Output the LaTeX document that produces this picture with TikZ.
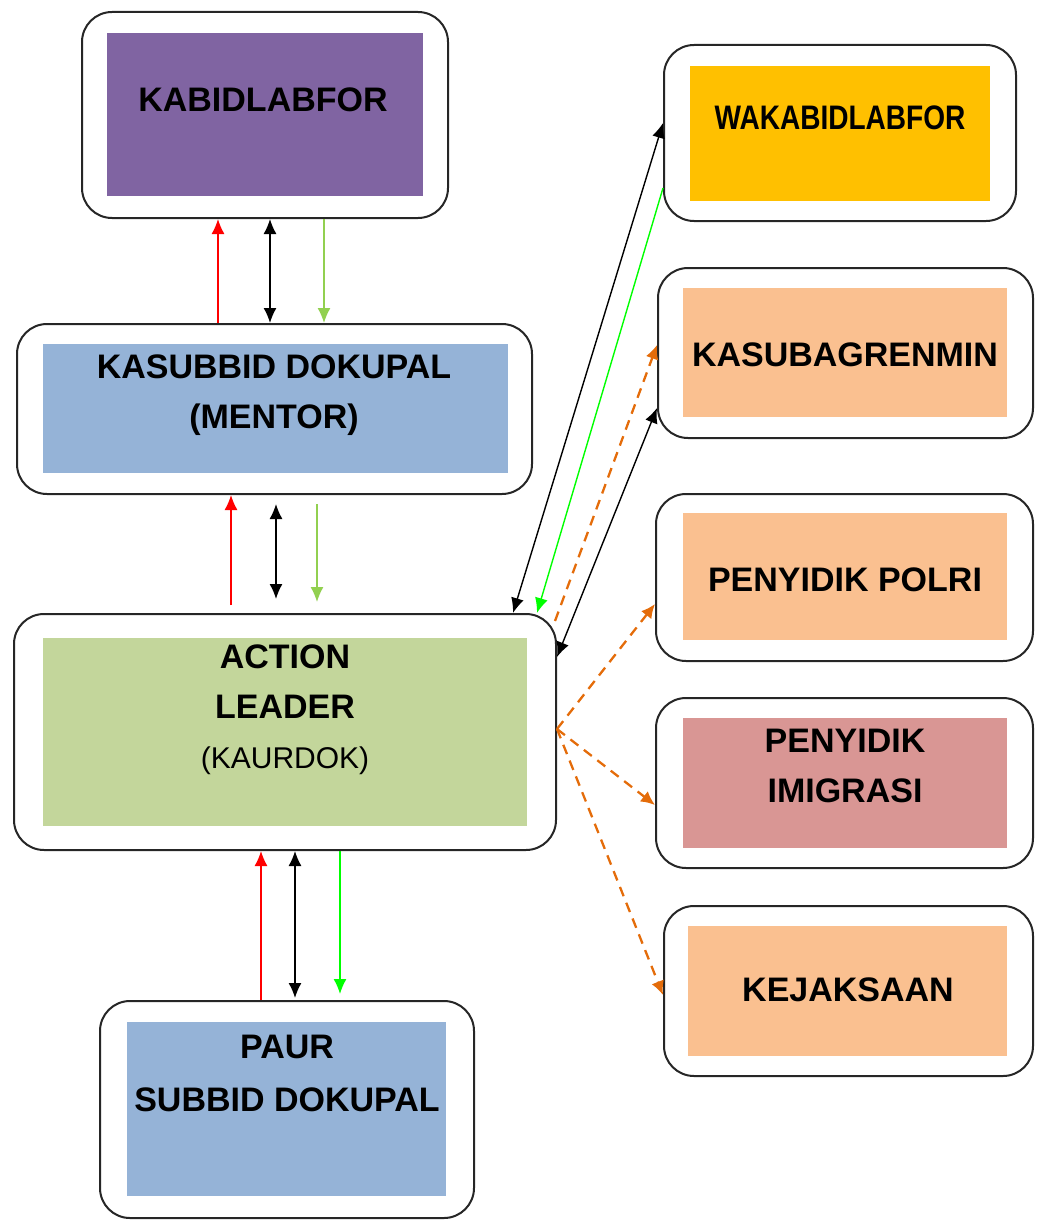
\documentclass[tikz,border=0pt]{standalone}
\usepackage{fontspec}
\setmainfont{Liberation Sans}
\usetikzlibrary{arrows.meta,calc}
\definecolor{cpurple}{RGB}{128,100,162}
\definecolor{cblue}{RGB}{149,179,215}
\definecolor{cgreen}{RGB}{195,214,155}
\definecolor{cgold}{RGB}{255,192,0}
\definecolor{cpeach}{RGB}{250,192,144}
\definecolor{cpink}{RGB}{217,150,148}
\definecolor{corange}{RGB}{228,108,10}
\definecolor{lgreen}{RGB}{146,208,80}
\definecolor{bgreen}{RGB}{0,255,0}
\tikzset{
  outerbox/.style={draw=black!85, line width=2pt, rounded corners=30pt, fill=white, inner sep=0pt},
  innerbox/.style={draw=none, inner sep=0pt},
  lbl/.style={font=\fontsize{34}{50}\selectfont\bfseries, align=center, inner sep=0pt},
  tip/.style={-{Latex[length=15pt,width=13pt]}},
  dtip/.style={{Latex[length=15pt,width=13pt]}-{Latex[length=15pt,width=13pt]}},
  redarr/.style={tip, draw=red, line width=1.4pt},
  blkarr/.style={dtip, draw=black, line width=1.4pt},
  lgarr/.style={tip, draw=lgreen, line width=1.4pt},
  bgarr/.style={tip, draw=bgreen, line width=1.4pt},
  orarr/.style={-{Latex[length=14pt,width=13pt]}, draw=corange, line width=2.3pt, dash pattern=on 10pt off 7pt},
}
\begin{document}
\begin{tikzpicture}[x=1pt,y=-1pt]
\useasboundingbox (0,0) rectangle (1043,1220);
% left column
\node[outerbox, minimum width=366pt, minimum height=206pt] (o1) at (265,115) {};
\node[innerbox, fill=cpurple, minimum width=316pt, minimum height=163pt] (i1) at (265,114.5) {};
\node[lbl] (t1) at (263,100) {KABIDLABFOR};

\node[outerbox, minimum width=515pt, minimum height=170pt] (o2) at (274.5,409) {};
\node[innerbox, fill=cblue, minimum width=465pt, minimum height=129pt] (i2) at (275.5,408.5) {};
\node[lbl] (t2) at (274,395) {KASUBBID DOKUPAL\\(MENTOR)};

\node[outerbox, minimum width=542pt, minimum height=236pt] (o3) at (285,732) {};
\node[innerbox, fill=cgreen, minimum width=484pt, minimum height=188pt] (i3) at (285,732) {};
\node[lbl] (t3) at (285,710) {ACTION\\LEADER\\{\mdseries\fontsize{30}{50}\selectfont (KAURDOK)}};

\node[outerbox, minimum width=374pt, minimum height=217pt] (o4) at (287,1109.5) {};
\node[innerbox, fill=cblue, minimum width=319pt, minimum height=174pt] (i4) at (286.5,1109) {};
\node[lbl, font=\fontsize{34}{53}\selectfont\bfseries] (t4) at (287,1073) {PAUR\\SUBBID DOKUPAL};

% right column
\node[outerbox, minimum width=352pt, minimum height=176pt] (o5) at (840,133) {};
\node[innerbox, fill=cgold, minimum width=300pt, minimum height=135pt] (i5) at (840,133.5) {};
\node[lbl] (t5) at (840,118) {\scalebox{0.825}[1]{WAKABIDLABFOR}};

\node[outerbox, minimum width=375pt, minimum height=170pt] (o6) at (845.5,353) {};
\node[innerbox, fill=cpeach, minimum width=324pt, minimum height=129pt] (i6) at (845,352.5) {};
\node[lbl] (t6) at (845,355) {KASUBAGRENMIN};

\node[outerbox, minimum width=377pt, minimum height=167pt] (o7) at (844.5,577.5) {};
\node[innerbox, fill=cpeach, minimum width=324pt, minimum height=127pt] (i7) at (845,576.5) {};
\node[lbl] (t7) at (845,580) {PENYIDIK POLRI};

\node[outerbox, minimum width=377pt, minimum height=170pt] (o8) at (844.5,783) {};
\node[innerbox, fill=cpink, minimum width=324pt, minimum height=130pt] (i8) at (845,783) {};
\node[lbl] (t8) at (845,766) {PENYIDIK\\IMIGRASI};

\node[outerbox, minimum width=369pt, minimum height=170pt] (o9) at (848.5,991) {};
\node[innerbox, fill=cpeach, minimum width=319pt, minimum height=130pt] (i9) at (847.5,991) {};
\node[lbl] (t9) at (848,990) {KEJAKSAAN};

% vertical arrows
\draw[redarr] (218,0 |- o2.north) -- (218,0 |- o1.south);
\draw[blkarr] (270,0 |- o2.north) -- (270,0 |- o1.south);
\draw[lgarr] (324,0 |- o1.south) -- (324,0 |- o2.north);

\draw[redarr] ($(231,0 |- o3.north)+(0,-8)$) -- (231,0 |- o2.south);
\draw[blkarr] ($(276,0 |- o3.north)+(0,-14)$) -- ($(276,0 |- o2.south)+(0,9)$);
\draw[lgarr] ($(317,0 |- o2.south)+(0,9)$) -- ($(317,0 |- o3.north)+(0,-11)$);

\draw[redarr] (261,0 |- o4.north) -- (261,0 |- o3.south);
\draw[blkarr] ($(295,0 |- o4.north)+(0,-2)$) -- (295,0 |- o3.south);
\draw[bgarr] (340,0 |- o3.south) -- ($(340,0 |- o4.north)+(0,-6)$);

% diagonal connectors
\coordinate (a1) at (513,0 |- o3.north);
\coordinate (b1) at (o5.west |- 0,123);
\draw[blkarr] (a1) -- (b1);
\coordinate (a2) at (o5.west |- 0,188);
\coordinate (b2) at (537,0 |- o3.north);
\draw[bgarr] (a2) -- (b2);
\coordinate (a3) at (555,621);
\coordinate (b3) at (o6.west |- 0,345);
\draw[orarr] (a3) -- (b3);
\coordinate (a4) at (o3.east |- 0,657);
\coordinate (b4) at (o6.west |- 0,408);
\draw[blkarr] (a4) -- (b4);
\coordinate (c0) at (o3.east |- 0,729);
\draw[orarr] (c0) -- (o7.west |- 0,604);
\draw[orarr] (c0) -- (o8.west |- 0,805);
\draw[orarr] (c0) -- (o9.west |- 0,995);
\end{tikzpicture}
\end{document}
